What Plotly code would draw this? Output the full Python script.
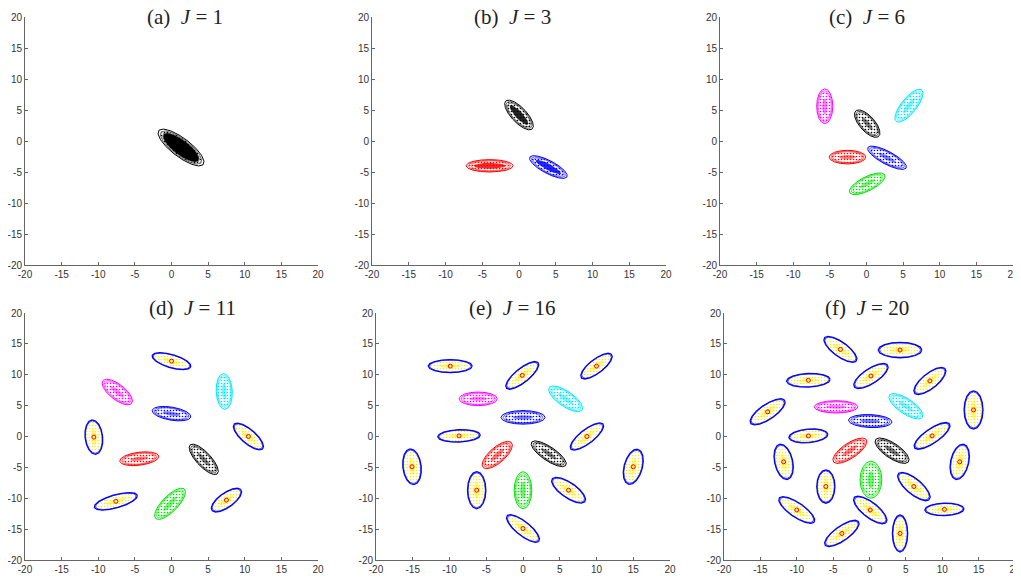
import numpy as np
import plotly.graph_objects as go

# ---------------- data ----------------
TICKS = [-20, -15, -10, -5, 0, 5, 10, 15, 20]
TICK_TEXT = ["-20", "-15", "-10", "-5", "0", "5", "10", "15", "20"]
TITLES = ["(a)", "(b)", "(c)", "(d)", "(e)", "(f)"]
J_VALUES = [1, 3, 6, 11, 16, 20]

# each panel: cluster centre x, y, half-length, half-width, angle (deg), kind
A_X = [1.3]
A_Y = [-1.05]
A_LEN = [4.1]
A_WID = [1.4]
A_ANG = [-43]
A_KIND = ["k"]

B_X = [0.0, -4.0, 4.0]
B_Y = [4.2, -4.0, -4.2]
B_LEN = [2.9, 3.2, 3.0]
B_WID = [1.1, 1.0, 1.0]
B_ANG = [-53, 0, -33]
B_KIND = ["k", "r", "b"]

C_X = [-5.7, 0.1, 5.8, -2.6, 2.8, 0.1]
C_Y = [5.6, 2.8, 5.7, -2.6, -2.7, -6.9]
C_LEN = [2.8, 2.6, 3.1, 2.5, 3.1, 2.8]
C_WID = [1.1, 1.1, 1.1, 1.1, 1.0, 1.1]
C_ANG = [90, -55, 57, 0, -33, 32]
C_KIND = ["m", "k", "c", "r", "b", "g"]

D_X = [0.0, -7.4, 7.2, 0.0, -10.6, 10.5, -4.4, 4.4, -7.6, -0.2, 7.5]
D_Y = [12.2, 7.2, 7.3, 3.7, -0.1, 0.0, -3.6, -3.7, -10.5, -10.9, -10.3]
D_LEN = [2.8, 2.7, 2.9, 2.7, 2.8, 2.8, 2.7, 3.0, 3.1, 3.1, 2.6]
D_WID = [1.05, 1.15, 1.1, 1.05, 1.2, 1.05, 1.05, 1.05, 1.05, 1.15, 1.1]
D_ANG = [-20, -45, 92, -12, 95, -47, 9, -53, 19, 52, 42]
D_KIND = ["y", "m", "c", "b", "y", "y", "r", "k", "y", "g", "y"]

E_X = [-9.9, -0.1, 10.0, -6.1, 5.8, 0.0, -8.7, 8.7, -3.5, 3.5, -15.1, 15.0, -6.3, 0.0, 6.2, 0.0]
E_Y = [11.4, 9.9, 11.4, 6.1, 6.1, 3.1, 0.1, 0.0, -3.0, -2.8, -4.9, -4.9, -8.7, -8.7, -8.7, -14.9]
E_LEN = [3.0, 3.0, 2.8, 2.6, 2.9, 3.0, 2.9, 3.0, 2.8, 3.0, 2.9, 2.9, 3.0, 3.0, 2.9, 3.0]
E_WID = [1.05, 1.05, 1.05, 1.1, 1.15, 1.1, 1.0, 1.05, 1.15, 1.05, 1.25, 1.25, 1.25, 1.2, 1.15, 1.05]
E_ANG = [0, 45, 44, 0, -41, 0, 3, 44, 48, -40, 95, 78, 90, 90, -41, -45]
E_KIND = ["y", "y", "y", "m", "c", "b", "y", "y", "r", "k", "y", "y", "y", "g", "y", "y"]

F_X = [-4.0, 4.2, -8.4, 0.2, 8.3, -14.0, -4.6, 5.0, 14.3, 0.1, -8.4, 8.6,
       -2.7, 3.1, -11.8, 12.4, 0.2, -6.0, 6.1, -10.0, 0.1, 10.3, -3.8, 4.2]
F_Y = [14.1, 14.0, 9.1, 9.8, 9.0, 4.0, 4.8, 4.9, 4.3, 2.5, 0.1, 0.1,
       -2.3, -2.3, -4.1, -4.1, -7.0, -8.1, -8.1, -11.9, -11.9, -11.8, -15.7, -15.7]
F_LEN = [2.9, 3.0, 3.0, 2.9, 2.9, 3.0, 3.0, 2.9, 3.1, 3.0, 2.7, 3.1,
         2.9, 2.9, 2.9, 2.9, 3.0, 2.7, 3.0, 3.1, 3.0, 2.7, 3.0, 3.0]
F_WID = [1.1, 1.25, 1.1, 1.15, 1.15, 1.15, 1.0, 1.15, 1.3, 1.05, 1.1, 1.1,
         1.15, 1.15, 1.25, 1.25, 1.5, 1.25, 1.15, 1.1, 1.15, 1.0, 1.1, 1.05]
F_ANG = [-42, 0, 3, 39, 45, 40, 0, -40, 90, -3, 6, 40,
         40, -40, 100, 80, 90, 90, -46, -40, -44, 2, 41, 90]
F_KIND = ["y", "y", "y", "y", "y", "y", "m", "c", "y", "b", "y", "y",
          "r", "k", "y", "y", "g", "y", "y", "y", "y", "y", "y", "y"]

PANELS = [
    (A_X, A_Y, A_LEN, A_WID, A_ANG, A_KIND),
    (B_X, B_Y, B_LEN, B_WID, B_ANG, B_KIND),
    (C_X, C_Y, C_LEN, C_WID, C_ANG, C_KIND),
    (D_X, D_Y, D_LEN, D_WID, D_ANG, D_KIND),
    (E_X, E_Y, E_LEN, E_WID, E_ANG, E_KIND),
    (F_X, F_Y, F_LEN, F_WID, F_ANG, F_KIND),
]

# ---------------- styling ----------------
COLORS = {"k": "#000000", "r": "#FF0000", "b": "#0000FF", "c": "#00E5FF",
          "m": "#FF00FF", "g": "#00E000", "y": "#0000FF"}
YELLOW = "#FFEE00"
OFF = 8                      # page body margin that offsets the figure
W, H = 1021 - OFF, 579 - OFF
# positions measured in page pixels
X_DOM_PX = [(25, 318), (372, 666), (720, 1013), (25, 318), (376, 670), (724, 1015)]
Y_DOM_PX = [(17, 265)] * 3 + [(313, 560)] * 3
TITLE_POS_PX = [(185, 17), (512, 17), (867, 17), (192, 308), (512, 308), (867, 308)]


def outline(cx, cy, a, b, ang, s, n=16):
    t = np.linspace(0, 2 * np.pi, n + 1)
    u = a * s * np.cos(t)
    v = b * s * np.sin(t)
    th = np.radians(ang)
    return cx + u * np.cos(th) - v * np.sin(th), cy + u * np.sin(th) + v * np.cos(th)


fig = go.Figure()


def add(xs, ys, ax, **kw):
    fig.add_trace(go.Scatter(x=xs, y=ys, xaxis="x" + ax, yaxis="y" + ax,
                             showlegend=False, hoverinfo="skip", **kw))


for p, (PX, PY, PL, PW, PA, PK) in enumerate(PANELS):
    ax = "" if p == 0 else str(p + 1)
    for cx, cy, L, Wd, ang, kind in zip(PX, PY, PL, PW, PA, PK):
        col = COLORS[kind]
        pts = YELLOW if kind == "y" else col
        # scattered points (dotted fill)
        x, y = outline(cx, cy, L, Wd, ang, 0.88)
        add(x, y, ax, mode="lines", line=dict(width=0, color=pts), fill="toself",
            fillcolor="rgba(0,0,0,0)",
            fillpattern=dict(shape=".", fgcolor=pts, size=3, solidity=0.22))
        # dense core
        if p == 0:
            x, y = outline(cx, cy, L, Wd, ang, 0.78)
            add(x, y, ax, mode="lines", line=dict(width=0, color=col), fill="toself",
                fillcolor=col)
        elif p == 1:
            x, y = outline(cx, cy, L * 0.85, Wd * 0.6, ang, 0.8)
            add(x, y, ax, mode="lines", line=dict(width=0, color=col), fill="toself",
                fillcolor=col, opacity=0.85)
        else:
            x, y = outline(cx, cy, L * 0.65, Wd * 0.45, ang, 0.7)
            add(x, y, ax, mode="lines", line=dict(width=0, color=pts), fill="toself",
                fillcolor=pts, opacity=0.5)
        # contour rings
        rings = [(1.0, 1.3), (0.94, 0.7)] if kind == "y" else [(1.0, 1.0), (0.9, 0.6), (0.8, 0.5)]
        for s, lw in rings:
            x, y = outline(cx, cy, L, Wd, ang, s)
            add(x, y, ax, mode="lines", line=dict(width=lw, color=col))
        if kind == "y":
            add([cx], [cy], ax, mode="markers",
                marker=dict(symbol="circle-open", size=4, color="#FF0000", line=dict(width=1)))

layout = dict(width=W, height=H, margin=dict(l=0, r=0, t=0, b=0, autoexpand=False),
              template="none",
              paper_bgcolor="white", plot_bgcolor="white", showlegend=False)
axis_common = dict(range=[-20, 20], tickvals=TICKS, ticktext=TICK_TEXT, showgrid=False,
                   zeroline=False, showline=True, linecolor="#666666", linewidth=1,
                   ticks="inside", ticklen=3, tickcolor="#666666", automargin=False,
                   tickfont=dict(family="Arial, Liberation Sans", size=10, color="#333333"))
for p in range(6):
    ax = "" if p == 0 else str(p + 1)
    x0, x1 = X_DOM_PX[p]
    y0, y1 = Y_DOM_PX[p]
    layout["xaxis" + ax] = dict(axis_common, domain=[(x0 - OFF) / W, min(1.0, (x1 - OFF) / W)],
                                anchor="y" + ax)
    layout["yaxis" + ax] = dict(axis_common, domain=[1 - (y1 - OFF) / H, 1 - (y0 - OFF) / H],
                                anchor="x" + ax)
fig.update_layout(**layout)

for p in range(6):
    tx, ty = TITLE_POS_PX[p]
    fig.add_annotation(x=(tx - OFF) / W, y=1 - (ty - OFF) / H, xref="paper", yref="paper",
                       text=TITLES[p] + "\u00a0\u00a0<i>J</i>\u00a0=\u00a0" + str(J_VALUES[p]),
                       showarrow=False, xanchor="center", yanchor="middle",
                       font=dict(family="Liberation Serif, Times New Roman, serif",
                                 size=21, color="#222222"))

fig.write_html("out.html")
